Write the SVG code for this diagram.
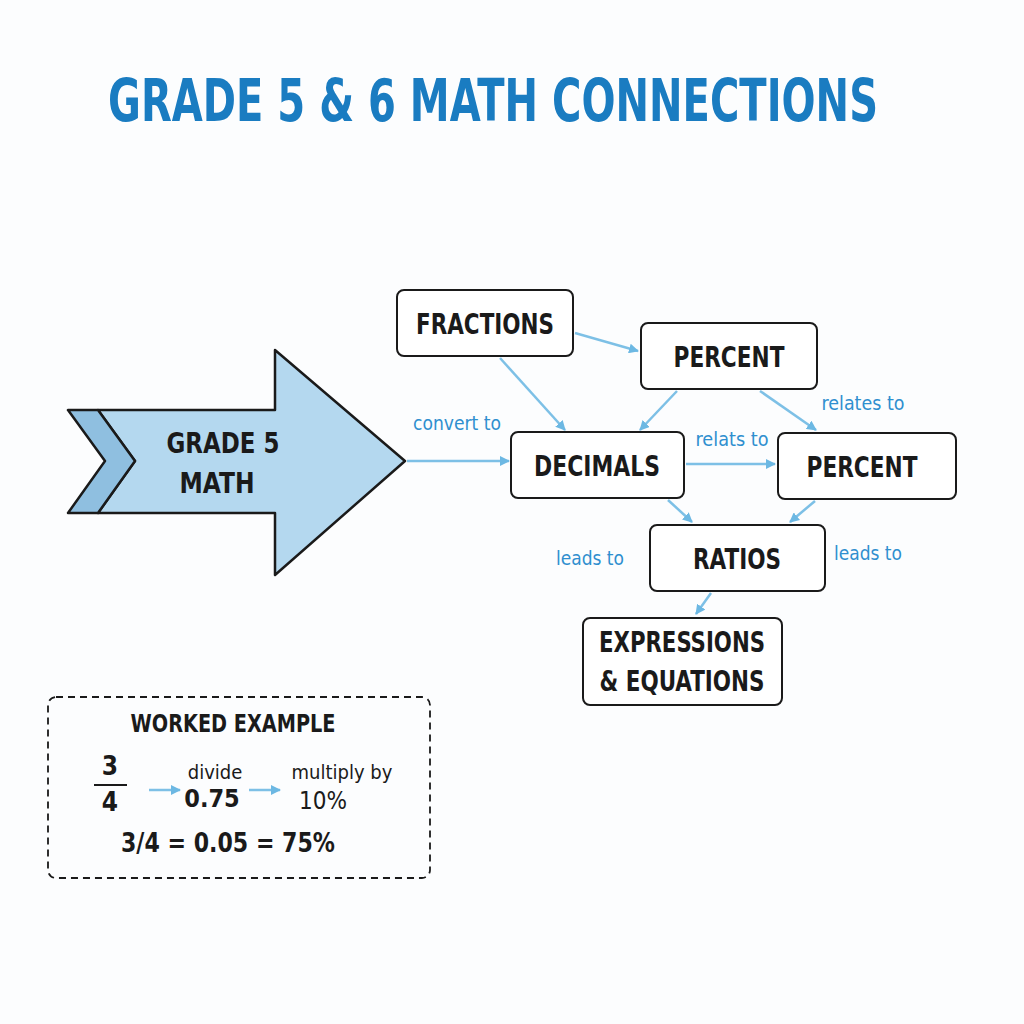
<svg xmlns="http://www.w3.org/2000/svg" width="1024" height="1024" viewBox="0 0 1024 1024">
<style>
text{font-family:"DejaVu Sans Condensed","DejaVu Sans",sans-serif;font-weight:bold}
.box{fill:#fff;stroke:#1a1a1a;stroke-width:2}
.lbl{font-size:28px;fill:#1a1a1a;text-anchor:middle}
.c{stroke:#7dc0e6;stroke-width:2.5;fill:none;marker-end:url(#a)}
.e{font-size:19px;fill:#2f8fcf;font-weight:normal;text-anchor:middle}
.w{fill:#1a1a1a;text-anchor:middle;font-weight:normal}
</style>
<defs><marker id="a" markerWidth="10" markerHeight="10" refX="9" refY="5" orient="auto" markerUnits="userSpaceOnUse"><path d="M0,0 L10,5 L0,10 z" fill="#6cb8e3"/></marker></defs>
<rect width="1024" height="1024" fill="#fcfdfe"/>
<text x="493" y="121" font-size="58" fill="#1a7cc1" text-anchor="middle" textLength="770" lengthAdjust="spacingAndGlyphs">GRADE 5 &amp; 6 MATH CONNECTIONS</text>
<g id="grade5">
<polygon points="98,410 275,410 275,350 405,461 275,575 275,513 98,513 135,461" fill="#b4d8ef" stroke="#1a1a1a" stroke-width="2.5" stroke-linejoin="round"/>
<polygon points="68,410 98,410 135,461 98,513 68,513 105,461" fill="#8fbfe0" stroke="#1a1a1a" stroke-width="2.5" stroke-linejoin="round"/>
<text class="lbl" x="223" y="453" textLength="113" lengthAdjust="spacingAndGlyphs">GRADE 5</text><text class="lbl" x="217" y="493" textLength="75" lengthAdjust="spacingAndGlyphs">MATH</text>
</g>
<g id="connectors">
<line class="c" x1="407" y1="461" x2="509" y2="461"/>
<line class="c" x1="575" y1="333" x2="638" y2="351"/>
<line class="c" x1="500" y1="358" x2="565" y2="430"/>
<line class="c" x1="677" y1="391" x2="640" y2="430"/>
<line class="c" x1="760" y1="391" x2="816" y2="430"/>
<line class="c" x1="686" y1="464" x2="775" y2="464"/>
<line class="c" x1="668" y1="500" x2="692" y2="522"/>
<line class="c" x1="815" y1="501" x2="790" y2="522"/>
<line class="c" x1="711" y1="593" x2="696" y2="614"/>
</g>
<g>
<text class="e" x="457" y="430" textLength="88" lengthAdjust="spacingAndGlyphs">convert to</text>
<text class="e" x="863" y="410" textLength="83" lengthAdjust="spacingAndGlyphs">relates to</text>
<text class="e" x="732" y="446" textLength="73" lengthAdjust="spacingAndGlyphs">relats to</text>
<text class="e" x="590" y="565" textLength="68" lengthAdjust="spacingAndGlyphs">leads to</text>
<text class="e" x="868" y="560" textLength="68" lengthAdjust="spacingAndGlyphs">leads to</text>
</g>
<g id="fractions"><rect class="box" x="397" y="290" width="176" height="66" rx="7"/><text class="lbl" x="485" y="334" textLength="138" lengthAdjust="spacingAndGlyphs">FRACTIONS</text></g>
<g id="percent1"><rect class="box" x="641" y="323" width="176" height="66" rx="7"/><text class="lbl" x="729" y="367" textLength="111" lengthAdjust="spacingAndGlyphs">PERCENT</text></g>
<g id="decimals"><rect class="box" x="511" y="432" width="173" height="66" rx="7"/><text class="lbl" x="597" y="476" textLength="126" lengthAdjust="spacingAndGlyphs">DECIMALS</text></g>
<g id="percent2"><rect class="box" x="778" y="433" width="178" height="66" rx="7"/><text class="lbl" x="862" y="477" textLength="111" lengthAdjust="spacingAndGlyphs">PERCENT</text></g>
<g id="ratios"><rect class="box" x="650" y="525" width="175" height="66" rx="7"/><text class="lbl" x="737" y="569" textLength="88" lengthAdjust="spacingAndGlyphs">RATIOS</text></g>
<g id="expressions"><rect class="box" x="583" y="618" width="199" height="87" rx="7"/><text class="lbl" x="682" y="652" textLength="166" lengthAdjust="spacingAndGlyphs">EXPRESSIONS</text><text class="lbl" x="682" y="691" textLength="165" lengthAdjust="spacingAndGlyphs">&amp; EQUATIONS</text></g>
<g id="worked">
<rect x="48" y="697" width="382" height="181" rx="8" fill="none" stroke="#1a1a1a" stroke-width="1.8" stroke-dasharray="7,5"/>
<text class="w" x="233" y="732" font-size="24" style="font-weight:bold" textLength="205" lengthAdjust="spacingAndGlyphs">WORKED EXAMPLE</text>
<text class="w" x="110" y="775" font-size="26" style="font-weight:bold">3</text>
<line x1="94" y1="785" x2="127" y2="785" stroke="#1a1a1a" stroke-width="2"/>
<text class="w" x="110" y="811" font-size="26" style="font-weight:bold">4</text>
<line class="c" x1="149" y1="790" x2="180" y2="790"/>
<text class="w" x="215" y="779" font-size="20">divide</text>
<text class="w" x="212" y="807" font-size="25" style="font-weight:bold">0.75</text>
<line class="c" x1="249" y1="790" x2="280" y2="790"/>
<text class="w" x="342" y="779" font-size="20">multiply by</text>
<text class="w" x="323" y="809" font-size="24">10%</text>
<text class="w" x="228" y="852" font-size="27" style="font-weight:bold" textLength="214" lengthAdjust="spacingAndGlyphs">3/4 = 0.05 = 75%</text>
</g>
</svg>
